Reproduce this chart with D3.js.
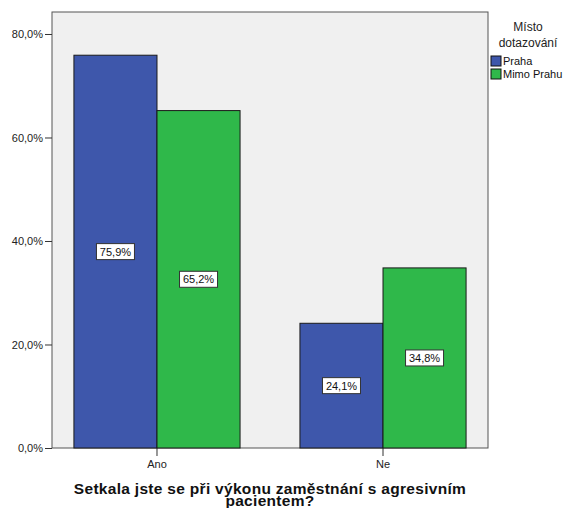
<!DOCTYPE html>
<meta charset="utf-8">
<style>
body { margin: 0; background: #fff; }
svg text { font-family: "Liberation Sans", Arial, sans-serif; }
.axis text { font-size: 11px; fill: #222; }
.axis path, .axis line { stroke: #333; }
.lbl text { font-size: 11px; text-anchor: middle; fill: #111; }
</style>
<body>
<svg width="568" height="508"></svg>
<script src="https://d3js.org/d3.v7.min.js"></script>
<script>

var categories = ["Ano", "Ne"];
var series = ["Praha", "Mimo Prahu"];
var praha = [75.9, 24.1];
var mimoPrahu = [65.2, 34.8];
var yTicks = [0, 20, 40, 60, 80];

var svg = d3.select("svg"),
    plotLeft = 52, plotRight = 488, plotTop = 12, plotBottom = 448;

var color = d3.scaleOrdinal(series, ["#3e57ab", "#2fb84a"]);

var x = d3.scaleBand()
    .domain(categories)
    .range([plotLeft, plotRight])
    .paddingInner(0.265)
    .paddingOuter(0.097);

var x1 = d3.scaleBand()
    .domain(series)
    .range([0, x.bandwidth()]);

var y = d3.scaleLinear()
    .domain([0, 84.25])
    .range([plotBottom, plotTop]);

var data = categories.map(function(c, i) {
  return { cat: c, values: [{ s: "Praha", v: praha[i] }, { s: "Mimo Prahu", v: mimoPrahu[i] }] };
});

// plot background
svg.append("rect")
    .attr("x", plotLeft).attr("y", plotTop)
    .attr("width", plotRight - plotLeft).attr("height", plotBottom - plotTop)
    .attr("fill", "#f0f0f0")
    .attr("stroke", "#555");

var g = svg.selectAll(".grp")
  .data(data)
  .enter().append("g")
    .attr("class", "grp")
    .attr("transform", function(d) { return "translate(" + x(d.cat) + ",0)"; });

g.selectAll("rect")
  .data(function(d) { return d.values; })
  .enter().append("rect")
    .attr("x", function(d) { return x1(d.s); })
    .attr("y", function(d) { return y(d.v); })
    .attr("width", x1.bandwidth())
    .attr("height", function(d) { return plotBottom - y(d.v); })
    .attr("fill", function(d) { return color(d.s); })
    .attr("stroke", "#1a1a1a")
    .attr("stroke-width", 1);

var lbl = g.selectAll(".lbl")
  .data(function(d) { return d.values; })
  .enter().append("g")
    .attr("class", "lbl")
    .attr("transform", function(d) {
      return "translate(" + (x1(d.s) + x1.bandwidth() / 2) + "," + (y(d.v) + plotBottom) / 2 + ")";
    });

lbl.append("rect")
    .attr("x", -19).attr("y", -8)
    .attr("width", 38).attr("height", 16)
    .attr("fill", "#fff")
    .attr("stroke", "#333");

lbl.append("text")
    .attr("dy", "0.36em")
    .text(function(d) { return d.v.toFixed(1).replace(".", ",") + "%"; });

// axes
svg.append("g")
    .attr("class", "axis")
    .attr("transform", "translate(" + plotLeft + ",0)")
    .call(d3.axisLeft(y).tickValues(yTicks).tickSize(7).tickSizeOuter(0).tickPadding(2)
      .tickFormat(function(d) { return d.toFixed(1).replace(".", ",") + "%"; }))
    .call(function(a) { a.select(".domain").remove(); });

svg.append("g")
    .attr("class", "axis")
    .attr("transform", "translate(0," + plotBottom + ")")
    .call(d3.axisBottom(x).tickSize(8).tickSizeOuter(0).tickPadding(4))
    .call(function(a) { a.select(".domain").remove(); });

// axis title
svg.append("text")
    .attr("x", (plotLeft + plotRight) / 2)
    .attr("text-anchor", "middle")
    .style("font-size", "15.5px")
    .style("font-weight", "bold")
    .style("letter-spacing", "0.3px")
    .style("fill", "#111")
    .selectAll("tspan")
    .data(["Setkala jste se při výkonu zaměstnání s agresivním", "pacientem?"])
    .enter().append("tspan")
      .attr("x", (plotLeft + plotRight) / 2)
      .attr("y", function(d, i) { return 494 + i * 12; })
      .text(function(d) { return d; });

// legend
var lg = svg.append("g").attr("transform", "translate(528,0)");
lg.selectAll(".lt")
  .data(["Místo", "dotazování"])
  .enter().append("text")
    .attr("y", function(d, i) { return 31 + i * 16; })
    .attr("text-anchor", "middle")
    .style("font-size", "12px")
    .style("fill", "#222")
    .text(function(d) { return d; });

var li = svg.selectAll(".li")
  .data(series)
  .enter().append("g")
    .attr("transform", function(d, i) { return "translate(491," + (56 + i * 13) + ")"; });

li.append("rect")
    .attr("width", 10).attr("height", 10)
    .attr("fill", function(d) { return color(d); })
    .attr("stroke", "#111");

li.append("text")
    .attr("x", 12).attr("y", 9)
    .style("font-size", "11px")
    .style("fill", "#111")
    .text(function(d) { return d; });

</script>
</body>
